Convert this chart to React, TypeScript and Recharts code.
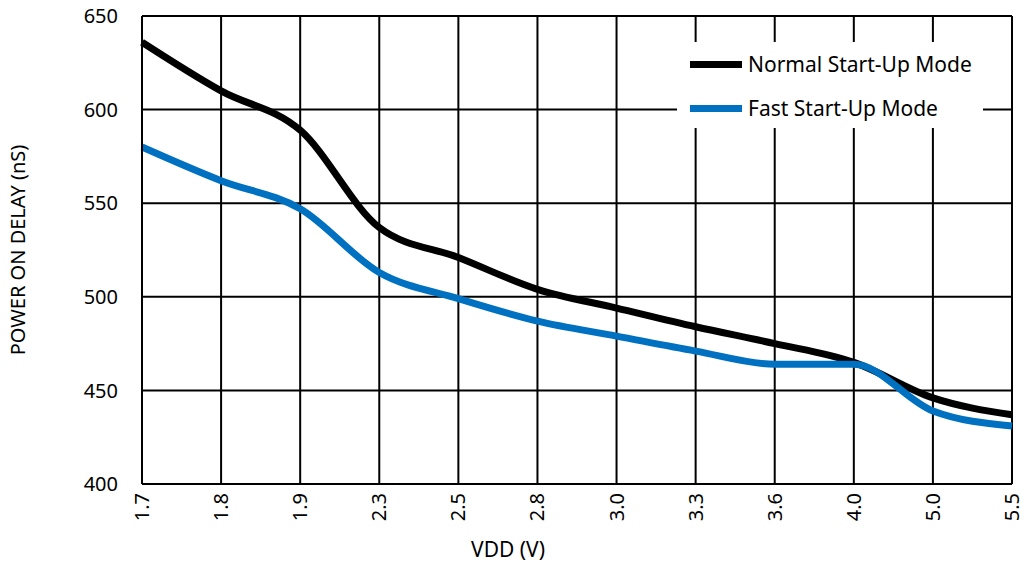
import React from 'react';
import { LineChart, Line, XAxis, YAxis, CartesianGrid, Legend, ReferenceLine } from 'recharts';

// VDD categories (evenly spaced on the axis, not to scale)
const vdd = ['1.7', '1.8', '1.9', '2.3', '2.5', '2.8', '3.0', '3.3', '3.6', '4.0', '5.0', '5.5'];
const normalStartUp = [636, 610, 589, 537, 521, 504, 494, 484, 475, 465, 446, 437];
const fastStartUp = [580, 562, 547, 513, 499, 487, 479, 471, 464, 464, 439, 431];
const yTicks = [400, 450, 500, 550, 600, 650];

const FONT = '"Noto Sans", sans-serif';

const data = vdd.map((v, i) => ({ vdd: v, normal: normalStartUp[i], fast: fastStartUp[i] }));

const series = [
  { key: 'normal', name: 'Normal Start-Up Mode', color: '#000000' },
  { key: 'fast', name: 'Fast Start-Up Mode', color: '#0070C0' },
];

// rotated x tick labels, reading bottom-to-top
const XTick = (props: any) => {
  const { x, y, payload } = props;
  return (
    <text
      x={x}
      y={y}
      transform={`rotate(-90, ${x}, ${y})`}
      textAnchor="end"
      dy="0.35em"
      fontSize={20}
      fontFamily={FONT}
      fill="#000"
    >
      {payload.value}
    </text>
  );
};

const LegendBox = () => (
  <div
    style={{
      background: '#fff',
      width: 306,
      height: 86,
      boxSizing: 'border-box',
      paddingLeft: 13,
      paddingTop: 0,
      fontFamily: FONT,
      fontSize: 21,
      color: '#000',
    }}
  >
    {series.map((s) => (
      <div key={s.key} style={{ display: 'flex', alignItems: 'center', height: 44 }}>
        <span style={{ display: 'inline-block', width: 52, height: 7, background: s.color, marginRight: 6 }} />
        <span>{s.name}</span>
      </div>
    ))}
  </div>
);

export default function App() {
  return (
    <div style={{ position: 'absolute', left: 0, top: 0, width: 1024, height: 568, background: '#fff' }}>
      <LineChart width={1024} height={568} data={data} margin={{ top: 16, right: 12, left: 0, bottom: 0 }}>
        <CartesianGrid stroke="#000" strokeWidth={2} vertical horizontal />
        <ReferenceLine y={650} stroke="#000" strokeWidth={2} />
        <ReferenceLine x="5.5" stroke="#000" strokeWidth={2} />
        <XAxis
          dataKey="vdd"
          type="category"
          interval={0}
          padding={{ left: 0, right: 0 }}
          height={84}
          tick={<XTick />}
          tickLine={false}
          tickSize={0}
          tickMargin={9}
          axisLine={{ stroke: '#000', strokeWidth: 2 }}
          label={{
            content: () => (
              <text x={508} y={557} textAnchor="middle" fontSize={21} fontFamily={FONT} fill="#000">
                VDD (V)
              </text>
            ),
          }}
        />
        <YAxis
          type="number"
          domain={[400, 650]}
          ticks={yTicks}
          interval={0}
          width={142}
          tickLine={false}
          tickSize={6}
          tickMargin={18}
          tick={{ fontSize: 20, fontFamily: FONT, fill: '#000' }}
          axisLine={{ stroke: '#000', strokeWidth: 2 }}
          label={{
            content: () => (
              <text
                x={25}
                y={250}
                transform="rotate(-90, 25, 250)"
                textAnchor="middle"
                fontSize={20}
                fontFamily={FONT}
                fill="#000"
              >
                POWER ON DELAY (nS)
              </text>
            ),
          }}
        />
        <Legend
          layout="horizontal"
          verticalAlign="middle"
          align="center"
          content={<LegendBox />}
          wrapperStyle={{ position: 'absolute', left: 677, top: 42, width: 306, height: 86 }}
        />
        {series.map((s) => (
          <Line
            key={s.key}
            type="monotone"
            dataKey={s.key}
            name={s.name}
            stroke={s.color}
            strokeWidth={7}
            dot={false}
            activeDot={false}
            isAnimationActive={false}
          />
        ))}
      </LineChart>
    </div>
  );
}
